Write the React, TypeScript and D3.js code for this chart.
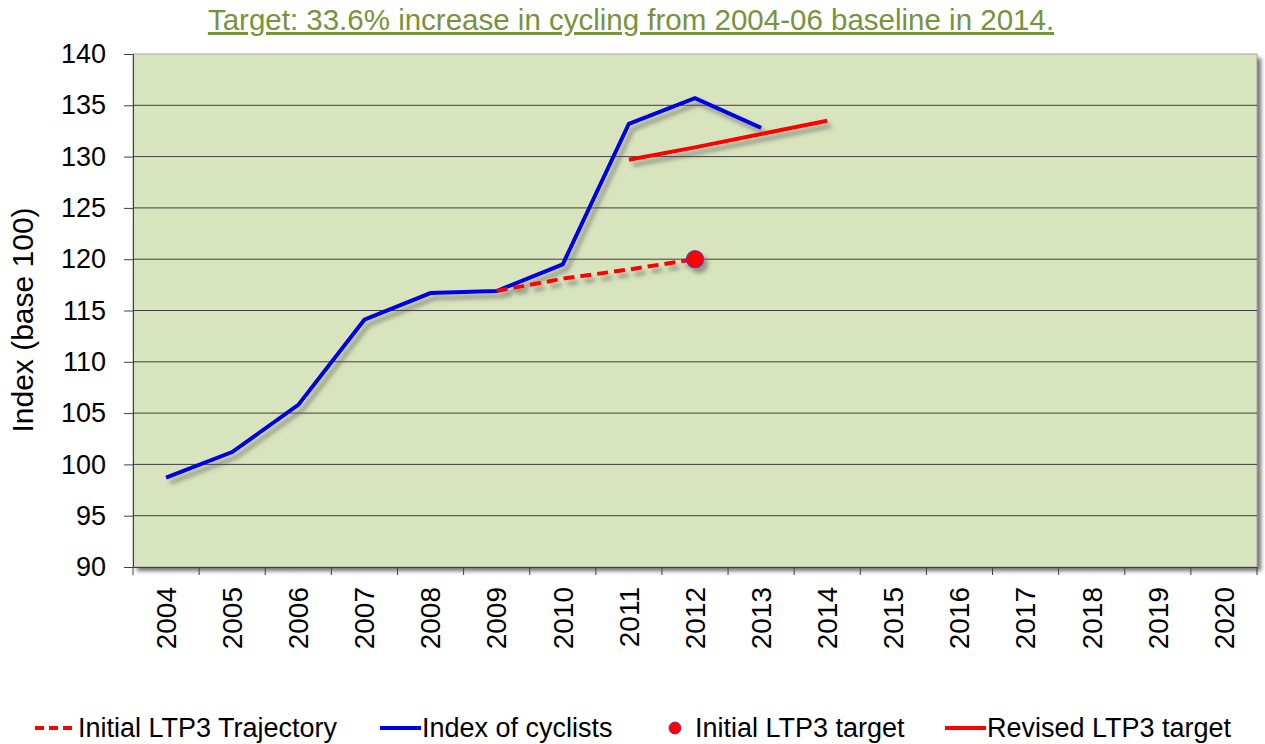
import React, { useEffect, useRef } from 'react';
import * as d3 from 'd3';

// chart data
const years = ['2004', '2005', '2006', '2007', '2008', '2009', '2010', '2011', '2012',
  '2013', '2014', '2015', '2016', '2017', '2018', '2019', '2020'];
const cyclistYears = ['2004', '2005', '2006', '2007', '2008', '2009', '2010', '2011', '2012', '2013'];
const cyclistIndex = [98.7, 101.2, 105.8, 114.1, 116.7, 116.9, 119.5, 133.2, 135.7, 132.8];
const trajectoryYears = ['2009', '2010', '2011', '2012'];
const trajectoryValues = [116.9, 118.1, 119.0, 120.0];
const revisedYears = ['2011', '2012', '2013', '2014'];
const revisedValues = [129.7, 130.9, 132.2, 133.5];
const targetYears = ['2012'];
const targetValues = [120];
const yTicks = [90, 95, 100, 105, 110, 115, 120, 125, 130, 135, 140];

const title = 'Target: 33.6% increase in cycling from 2004-06 baseline in 2014.';

const App = () => {
  const chartRef = useRef<SVGSVGElement>(null);

  useEffect(() => {
    const width = 1265;
    const height = 744;
    const margin = { top: 54, right: 8, bottom: 177, left: 133 };
    const font = '"Liberation Sans", Arial, sans-serif';

    const svg = d3.select(chartRef.current);
    svg.selectAll('*').remove();

    const defs = svg.append('defs');
    const shadow = defs.append('filter').attr('id', 'lineShadow')
      .attr('x', '-10%').attr('y', '-10%').attr('width', '120%').attr('height', '130%');
    shadow.append('feDropShadow')
      .attr('dx', 4).attr('dy', 5).attr('stdDeviation', 2)
      .attr('flood-color', '#555').attr('flood-opacity', 0.55);

    const boxShadow = defs.append('filter').attr('id', 'boxShadow')
      .attr('x', '-5%').attr('y', '-5%').attr('width', '110%').attr('height', '110%');
    boxShadow.append('feGaussianBlur').attr('stdDeviation', 2);

    const x = d3.scaleBand().domain(years).range([margin.left, width - margin.right]);
    const y = d3.scaleLinear().domain([90, 140]).range([height - margin.bottom, margin.top]);
    const cx = (yr: string) => (x(yr) as number) + x.bandwidth() / 2;

    // title
    svg.append('text')
      .attr('x', 631).attr('y', 30)
      .attr('text-anchor', 'middle')
      .attr('font-family', font).attr('font-size', 29.5)
      .attr('fill', '#77933c')
      .attr('text-decoration', 'underline')
      .text(title);

    // plot area with shadow
    const pw = width - margin.right - margin.left;
    const ph = height - margin.bottom - margin.top;
    svg.append('rect')
      .attr('x', margin.left + 4).attr('y', margin.top + 4)
      .attr('width', pw).attr('height', ph)
      .attr('fill', '#6f6f6f').attr('filter', 'url(#boxShadow)');
    svg.append('rect')
      .attr('x', margin.left).attr('y', margin.top)
      .attr('width', pw).attr('height', ph)
      .attr('fill', '#d8e4bd').attr('stroke', '#a6a6a6').attr('stroke-width', 1);

    // grid lines
    svg.append('g')
      .selectAll('line')
      .data(yTicks.slice(1, -1))
      .enter()
      .append('line')
      .attr('x1', margin.left).attr('x2', width - margin.right)
      .attr('y1', (d) => y(d)).attr('y2', (d) => y(d))
      .attr('stroke', '#404040').attr('stroke-width', 1);

    // y axis
    const yAxis = svg.append('g')
      .attr('transform', `translate(${margin.left},0)`)
      .call(d3.axisLeft(y).tickValues(yTicks).tickSize(9).tickPadding(18));
    yAxis.select('.domain').attr('stroke', '#404040');
    yAxis.selectAll('.tick line').attr('stroke', '#404040');
    yAxis.selectAll('.tick text')
      .attr('font-family', font).attr('font-size', 27).attr('fill', '#000');

    // x axis
    const xAxis = svg.append('g')
      .attr('transform', `translate(0,${height - margin.bottom})`)
      .call(d3.axisBottom(x).tickSize(0));
    xAxis.select('.domain').attr('stroke', '#404040');
    xAxis.selectAll('.tick text')
      .attr('font-family', font).attr('font-size', 28).attr('fill', '#000')
      .attr('transform', 'rotate(-90)')
      .attr('text-anchor', 'end')
      .attr('x', -20).attr('y', 0).attr('dy', '0.35em');
    svg.append('g')
      .selectAll('line')
      .data(years.concat(['end']))
      .enter()
      .append('line')
      .attr('x1', (d, i) => margin.left + i * x.bandwidth())
      .attr('x2', (d, i) => margin.left + i * x.bandwidth())
      .attr('y1', height - margin.bottom).attr('y2', height - margin.bottom + 8)
      .attr('stroke', '#404040');

    // y axis title
    svg.append('text')
      .attr('transform', 'translate(33,320) rotate(-90)')
      .attr('text-anchor', 'middle')
      .attr('font-family', font).attr('font-size', 30)
      .text('Index (base 100)');

    const line = d3.line<[string, number]>()
      .x((d) => cx(d[0]))
      .y((d) => y(d[1]));

    const series = svg.append('g').attr('filter', 'url(#lineShadow)');

    series.append('path')
      .datum(cyclistYears.map((yr, i) => [yr, cyclistIndex[i]] as [string, number]))
      .attr('d', line)
      .attr('fill', 'none').attr('stroke', '#0000e6').attr('stroke-width', 4);

    series.append('path')
      .datum(revisedYears.map((yr, i) => [yr, revisedValues[i]] as [string, number]))
      .attr('d', line)
      .attr('fill', 'none').attr('stroke', '#ff0000').attr('stroke-width', 4);

    series.append('path')
      .datum(trajectoryYears.map((yr, i) => [yr, trajectoryValues[i]] as [string, number]))
      .attr('d', line)
      .attr('fill', 'none').attr('stroke', '#ff0000').attr('stroke-width', 4)
      .attr('stroke-dasharray', '11 6');

    series.selectAll('circle')
      .data(targetYears)
      .enter()
      .append('circle')
      .attr('cx', (d) => cx(d))
      .attr('cy', (d, i) => y(targetValues[i]))
      .attr('r', 8.5)
      .attr('fill', '#ff0000').attr('stroke', '#7030a0').attr('stroke-width', 1.2);

    // legend
    const legend = svg.append('g')
      .attr('font-family', font).attr('font-size', 27);
    const ly = 728;
    legend.append('line').attr('x1', 35).attr('x2', 76).attr('y1', ly).attr('y2', ly)
      .attr('stroke', '#ff0000').attr('stroke-width', 4).attr('stroke-dasharray', '9 5');
    legend.append('text').attr('x', 78).attr('y', ly).attr('dy', '0.35em').text('Initial LTP3 Trajectory');
    legend.append('line').attr('x1', 380).attr('x2', 421).attr('y1', ly).attr('y2', ly)
      .attr('stroke', '#0000e6').attr('stroke-width', 4);
    legend.append('text').attr('x', 422).attr('y', ly).attr('dy', '0.35em').text('Index of cyclists');
    legend.append('circle').attr('cx', 675).attr('cy', ly).attr('r', 6)
      .attr('fill', '#ff0000').attr('stroke', '#7030a0').attr('stroke-width', 1);
    legend.append('text').attr('x', 695).attr('y', ly).attr('dy', '0.35em').text('Initial LTP3 target');
    legend.append('line').attr('x1', 945).attr('x2', 986).attr('y1', ly).attr('y2', ly)
      .attr('stroke', '#ff0000').attr('stroke-width', 4);
    legend.append('text').attr('x', 987).attr('y', ly).attr('dy', '0.35em').text('Revised LTP3 target');
  }, []);

  return (
    <svg
      ref={chartRef}
      width={1265}
      height={744}
      style={{ position: 'absolute', left: 0, top: 0, background: '#fff' }}
    />
  );
};

export default App;
